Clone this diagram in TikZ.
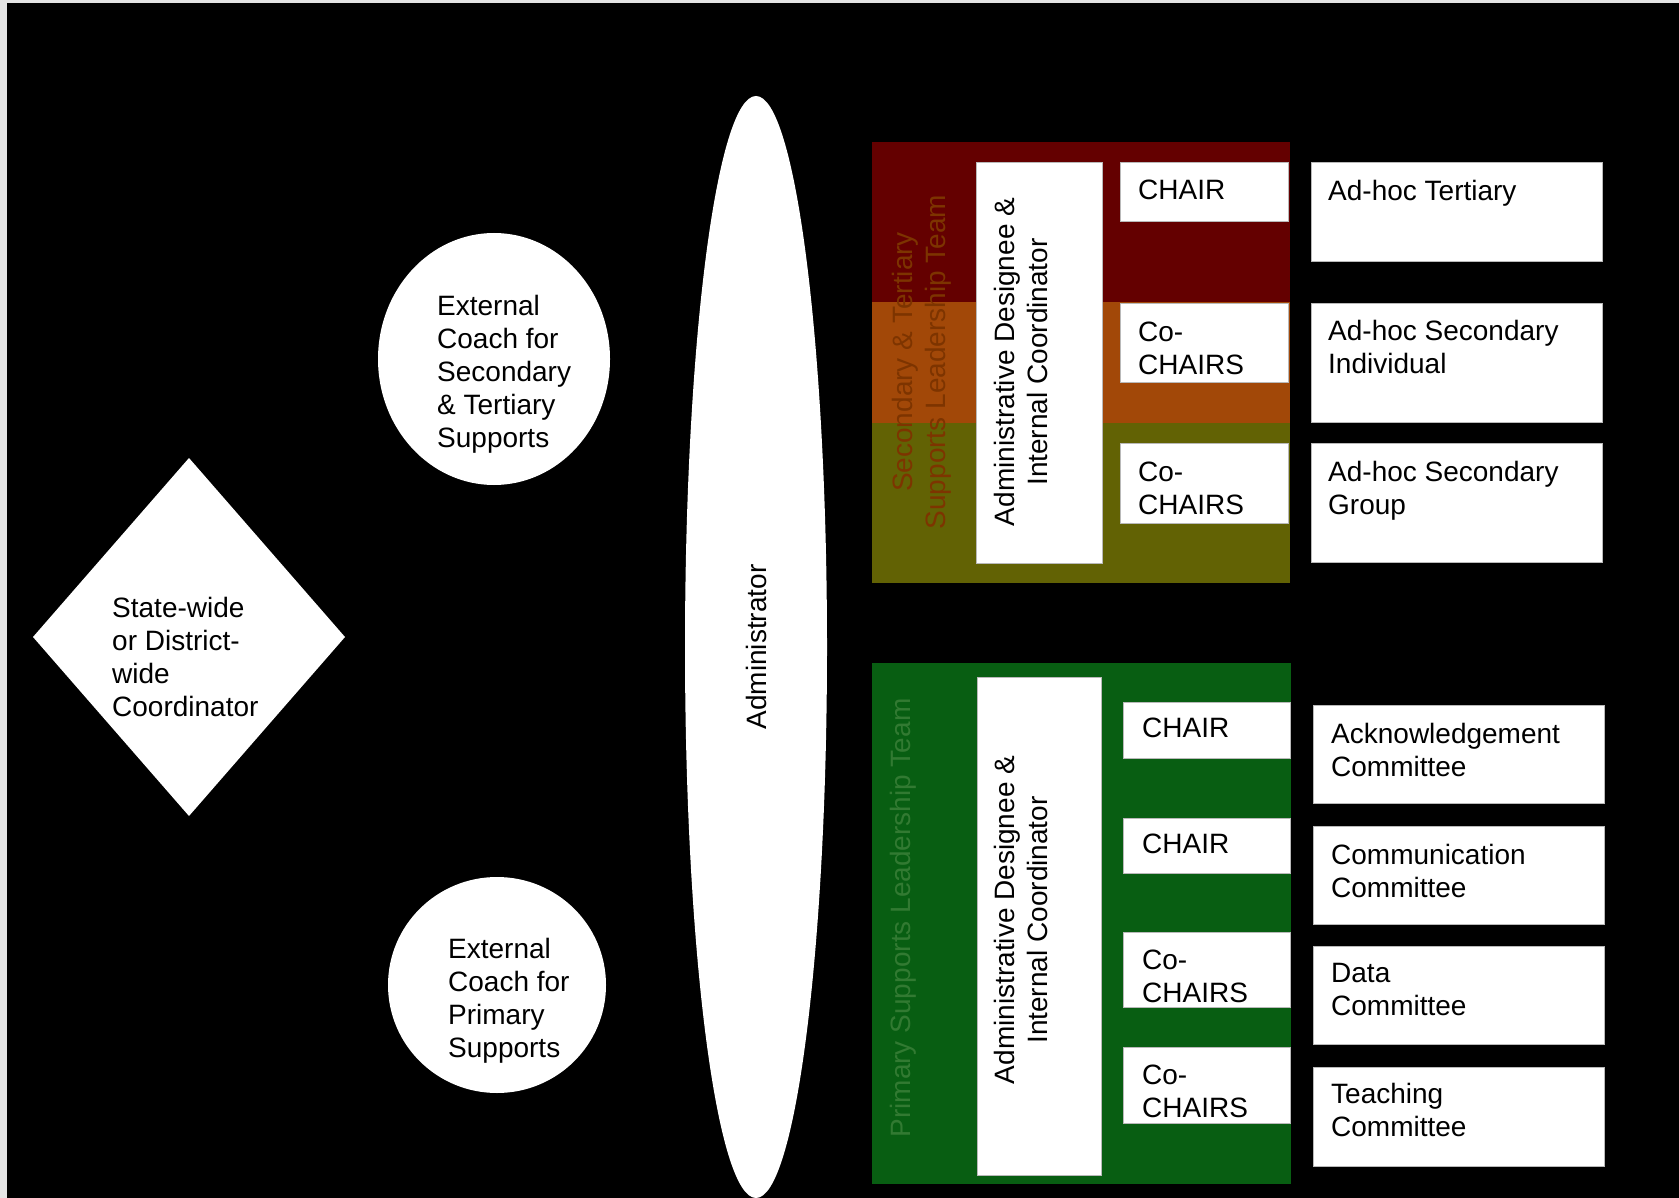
\documentclass[tikz,border=0pt]{standalone}
\usepackage{fontspec}
\setmainfont{Liberation Sans}
\usetikzlibrary{shapes.geometric}
\definecolor{tdred}{RGB}{100,0,0}
\definecolor{torange}{RGB}{162,72,8}
\definecolor{tolive}{RGB}{98,98,4}
\definecolor{tgreen}{RGB}{8,94,18}
\definecolor{slabel}{RGB}{125,52,0}
\definecolor{plabel}{RGB}{50,122,50}
\begin{document}
\begin{tikzpicture}[x=1pt,y=-1pt,
  wbox/.style={draw=gray!55,line width=1pt,fill=white,rectangle,inner sep=0pt,anchor=north west},
  txt/.style={anchor=north west,inner sep=0pt,align=left,font=\fontsize{28}{33}\selectfont,text=black},
  rtxt/.style={inner sep=0pt,align=center,font=\fontsize{28}{33}\selectfont,rotate=90},
  wshape/.style={fill=white,inner sep=0pt}
]
\useasboundingbox (0,0) rectangle (1679,1198);
\fill[white!80!gray] (0,0) rectangle (1679,1198);
\fill[black] (7,3) rectangle (1679,1198);

% diamond
\coordinate (dl) at (33,637);
\coordinate (dt) at (189,458);
\coordinate (dr) at (345,637);
\coordinate (db) at (189,816);
\fill[white] (dl) -- (dt) -- (dr) -- (db) -- cycle;
\node[txt] (coordtxt) at (112,597) {State-wide\\or District-\\wide\\Coordinator};

% coaches
\node[wshape,ellipse,minimum width=232,minimum height=252] (coachST) at (494,359) {};
\node[txt] (coachSTt) at (437,295) {External\\Coach for\\Secondary\\\& Tertiary\\Supports};
\node[wshape,ellipse,minimum width=218,minimum height=216] (coachP) at (497,985) {};
\node[txt] (coachPt) at (448,938) {External\\Coach for\\Primary\\Supports};

% administrator
\node[wshape,ellipse,minimum width=142,minimum height=1102] (admin) at (756,647) {};
\node[rtxt] (admint) at (756,647) {Administrator};

% secondary & tertiary team
\fill[tdred] (872,142) rectangle (1290,302);
\fill[torange] (872,302) rectangle (1290,423);
\fill[tolive] (872,423) rectangle (1290,583);
\node[rtxt,text=slabel] (steam) at (922,362) {Secondary \& Tertiary\\Supports Leadership Team};
\node[wbox,minimum width=126,minimum height=401] (adesA) at (976,162) {};
\node[rtxt] (adesAt) at (1021,362) {Administrative Designee \&\\Internal Coordinator};
\node[wbox,minimum width=168,minimum height=59] (chA) at (1120,162) {};
\node[txt] (chAt) at (1138,180) {CHAIR};
\node[wbox,minimum width=168,minimum height=79] (chB) at (1120,303) {};
\node[txt] (chBt) at (1138,322) {Co-\\CHAIRS};
\node[wbox,minimum width=168,minimum height=80] (chC) at (1120,443) {};
\node[txt] (chCt) at (1138,462) {Co-\\CHAIRS};

\node[wbox,minimum width=291,minimum height=99] (adT) at (1311,162) {};
\node[txt] (adTt) at (1328,180) {Ad-hoc Tertiary};
\node[wbox,minimum width=291,minimum height=119] (adSI) at (1311,303) {};
\node[txt] (adSIt) at (1328,320) {Ad-hoc Secondary\\Individual};
\node[wbox,minimum width=291,minimum height=119] (adSG) at (1311,443) {};
\node[txt] (adSGt) at (1328,461) {Ad-hoc Secondary\\Group};

% primary team
\fill[tgreen] (872,663) rectangle (1291,1184);
\node[rtxt,text=plabel] (pteam) at (903,918) {Primary Supports Leadership Team};
\node[wbox,minimum width=124,minimum height=498] (adesB) at (977,677) {};
\node[rtxt] (adesBt) at (1021,920) {Administrative Designee \&\\Internal Coordinator};
\node[wbox,minimum width=167,minimum height=56] (chD) at (1123,702) {};
\node[txt] (chDt) at (1142,718) {CHAIR};
\node[wbox,minimum width=167,minimum height=55] (chE) at (1123,818) {};
\node[txt] (chEt) at (1142,834) {CHAIR};
\node[wbox,minimum width=167,minimum height=75] (chF) at (1123,932) {};
\node[txt] (chFt) at (1142,950) {Co-\\CHAIRS};
\node[wbox,minimum width=167,minimum height=76] (chG) at (1123,1047) {};
\node[txt] (chGt) at (1142,1065) {Co-\\CHAIRS};

\node[wbox,minimum width=291,minimum height=98] (cmA) at (1313,705) {};
\node[txt] (cmAt) at (1331,723) {Acknowledgement\\Committee};
\node[wbox,minimum width=291,minimum height=98] (cmB) at (1313,826) {};
\node[txt] (cmBt) at (1331,844) {Communication\\Committee};
\node[wbox,minimum width=291,minimum height=98] (cmC) at (1313,946) {};
\node[txt] (cmCt) at (1331,963) {Data\\Committee};
\node[wbox,minimum width=291,minimum height=99] (cmD) at (1313,1067) {};
\node[txt] (cmDt) at (1331,1083) {Teaching\\Committee};
\end{tikzpicture}
\end{document}
